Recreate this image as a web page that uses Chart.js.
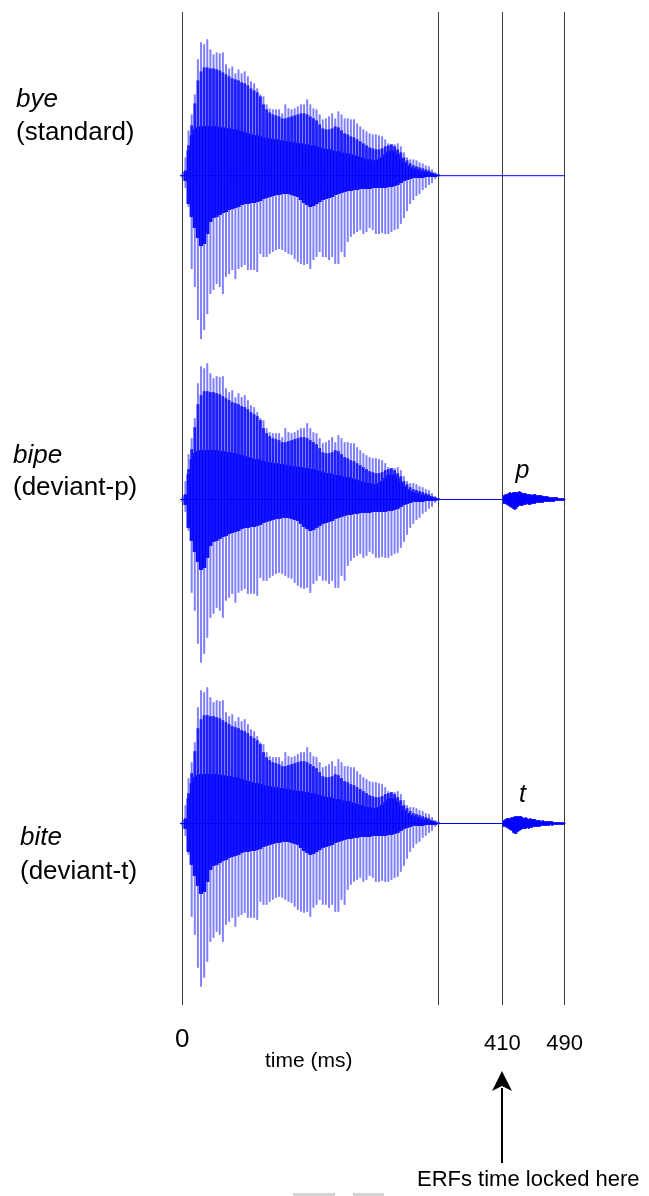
<!DOCTYPE html>
<html>
<head>
<meta charset="utf-8">
<script src="https://cdn.jsdelivr.net/npm/chart.js@4"></script>
<style>
  body { margin: 0; background: #fff; }
  #wrap { position: relative; width: 649px; height: 1196px; }
  .scrap { position: absolute; top: 1193px; height: 3px; background: #d4d4d4; }
</style>
</head>
<body>
<div id="wrap">
  <canvas id="wave" width="649" height="1196"></canvas>
  <div class="scrap" style="left:293px;width:42px"></div>
  <div class="scrap" style="left:353px;width:31px"></div>
</div>
<script>
// vowel (same "bye" recording in all three rows), one sample per ~glottal pulse, ms
const vowelTimes = [
    0, 4, 8, 12, 16, 20, 24, 28, 32, 36,
    40, 44, 48, 52, 56, 60, 64, 68, 72, 76,
    80, 84, 88, 92, 96, 100, 104, 108, 112, 116,
    120, 124, 128, 132, 136, 140, 144, 148, 152, 156,
    160, 164, 168, 172, 176, 180, 184, 188, 192, 196,
    200, 204, 208, 212, 216, 220, 224, 228, 232, 236,
    240, 244, 248, 252, 256, 260, 264, 268, 272, 276,
    280, 284, 288, 292, 296, 300, 304, 308, 312, 316,
    320, 324, 328
];

// peak amplitudes (thin outer spikes)
const vowelPeakUp = [
    0.02, 0.18, 0.45, 0.61, 0.81, 1.16, 1.33, 1.31, 1.36, 1.26,
    1.21, 1.23, 1.22, 1.23, 1.11, 1.07, 1.09, 1.02, 1.06, 1.02,
    1.04, 0.99, 0.94, 0.92, 0.87, 0.81, 0.79, 0.71, 0.67, 0.66,
    0.66, 0.66, 0.62, 0.71, 0.67, 0.66, 0.67, 0.69, 0.71, 0.71,
    0.76, 0.71, 0.67, 0.66, 0.61, 0.56, 0.57, 0.59, 0.62, 0.57,
    0.64, 0.61, 0.57, 0.57, 0.56, 0.56, 0.52, 0.49, 0.46, 0.44,
    0.42, 0.41, 0.41, 0.40, 0.39, 0.36, 0.32, 0.31, 0.31, 0.32,
    0.29, 0.23, 0.18, 0.16, 0.16, 0.15, 0.13, 0.12, 0.10, 0.09,
    0.06, 0.03, 0.01
];
const vowelPeakDown = [
    -0.02, -0.12, -0.31, -0.93, -1.11, -1.44, -1.63, -1.54, -1.38, -1.18,
    -1.14, -1.08, -1.11, -1.18, -1.01, -0.98, -0.94, -1.03, -0.93, -0.91,
    -0.89, -0.94, -0.94, -0.94, -0.96, -0.78, -0.81, -0.81, -0.78, -0.76,
    -0.74, -0.73, -0.74, -0.76, -0.78, -0.79, -0.83, -0.86, -0.88, -0.89,
    -0.88, -0.93, -0.84, -0.81, -0.76, -0.81, -0.81, -0.84, -0.81, -0.88,
    -0.88, -0.76, -0.81, -0.66, -0.61, -0.58, -0.56, -0.54, -0.58, -0.56,
    -0.52, -0.54, -0.58, -0.58, -0.57, -0.58, -0.58, -0.56, -0.54, -0.53,
    -0.48, -0.42, -0.35, -0.28, -0.24, -0.20, -0.18, -0.14, -0.12, -0.09,
    -0.07, -0.03, -0.01
];

// dense (but not solid) part above the baseline
const vowelBodyUp = [
    0.00, 0.05, 0.30, 0.50, 0.72, 0.95, 1.04, 1.08, 1.08, 1.07,
    1.07, 1.06, 1.05, 1.03, 1.01, 0.99, 0.97, 0.96, 0.95, 0.93,
    0.92, 0.90, 0.87, 0.85, 0.83, 0.79, 0.71, 0.66, 0.63, 0.61,
    0.60, 0.59, 0.57, 0.57, 0.58, 0.59, 0.60, 0.61, 0.62, 0.62,
    0.61, 0.59, 0.57, 0.55, 0.51, 0.47, 0.46, 0.46, 0.47, 0.49,
    0.48, 0.45, 0.42, 0.41, 0.39, 0.38, 0.36, 0.34, 0.32, 0.30,
    0.28, 0.27, 0.26, 0.26, 0.27, 0.29, 0.30, 0.31, 0.29, 0.26,
    0.23, 0.18, 0.15, 0.12, 0.10, 0.09, 0.08, 0.07, 0.06, 0.05,
    0.03, 0.02, 0.01
];
// solid core
const vowelCoreUp = [
    0.00, 0.04, 0.25, 0.40, 0.46, 0.48, 0.49, 0.49, 0.49, 0.49,
    0.49, 0.49, 0.48, 0.48, 0.47, 0.47, 0.46, 0.46, 0.45, 0.44,
    0.43, 0.42, 0.41, 0.40, 0.40, 0.39, 0.38, 0.37, 0.37, 0.36,
    0.36, 0.35, 0.35, 0.34, 0.34, 0.33, 0.33, 0.32, 0.32, 0.31,
    0.31, 0.30, 0.30, 0.29, 0.28, 0.27, 0.26, 0.26, 0.25, 0.24,
    0.24, 0.23, 0.22, 0.22, 0.21, 0.20, 0.19, 0.18, 0.17, 0.16,
    0.16, 0.15, 0.15, 0.16, 0.18, 0.21, 0.24, 0.25, 0.24, 0.21,
    0.17, 0.13, 0.10, 0.08, 0.07, 0.06, 0.05, 0.04, 0.04, 0.03,
    0.02, 0.01, 0.00
];
const vowelCoreDown = [
    0.00, -0.05, -0.28, -0.41, -0.52, -0.62, -0.70, -0.68, -0.58, -0.46,
    -0.42, -0.41, -0.39, -0.37, -0.36, -0.34, -0.33, -0.32, -0.31, -0.29,
    -0.28, -0.28, -0.27, -0.27, -0.26, -0.25, -0.23, -0.22, -0.21, -0.20,
    -0.19, -0.19, -0.18, -0.18, -0.18, -0.19, -0.20, -0.21, -0.24, -0.27,
    -0.29, -0.31, -0.30, -0.28, -0.26, -0.24, -0.23, -0.22, -0.21, -0.19,
    -0.18, -0.17, -0.16, -0.15, -0.15, -0.14, -0.14, -0.13, -0.13, -0.13,
    -0.13, -0.12, -0.12, -0.12, -0.12, -0.12, -0.11, -0.11, -0.10, -0.09,
    -0.07, -0.05, -0.04, -0.03, -0.02, -0.02, -0.02, -0.02, -0.01, -0.01,
    -0.01, -0.01, 0.00
];

// release bursts after the closure, ms
const burstTimes = [
    410, 412, 414, 416, 418, 420, 422, 424, 426, 428,
    430, 432, 434, 436, 438, 440, 442, 444, 446, 448,
    450, 452, 454, 456, 458, 460, 462, 464, 466, 468,
    470, 472, 474, 476, 478, 480, 482, 484, 486, 488, 490
];
const pBurstUp = [
    0.00, 0.04, 0.05, 0.05, 0.06, 0.07, 0.06, 0.07, 0.07, 0.07,
    0.07, 0.08, 0.07, 0.06, 0.06, 0.06, 0.05, 0.05, 0.05, 0.04,
    0.05, 0.05, 0.04, 0.04, 0.04, 0.04, 0.03, 0.03, 0.03, 0.03,
    0.02, 0.02, 0.02, 0.02, 0.02, 0.02, 0.01, 0.01, 0.01, 0.01, 0.00
];
const pBurstDown = [
    0.00, -0.04, -0.04, -0.05, -0.06, -0.07, -0.08, -0.09, -0.10, -0.09,
    -0.07, -0.06, -0.06, -0.06, -0.05, -0.05, -0.04, -0.05, -0.05, -0.04,
    -0.04, -0.04, -0.03, -0.03, -0.03, -0.03, -0.03, -0.02, -0.02, -0.02,
    -0.02, -0.02, -0.02, -0.02, -0.01, -0.01, -0.01, -0.01, -0.01, -0.01, 0.00
];
const tBurstUp = [
    0.00, 0.03, 0.04, 0.05, 0.05, 0.05, 0.06, 0.06, 0.07, 0.07,
    0.07, 0.07, 0.07, 0.06, 0.05, 0.06, 0.05, 0.04, 0.05, 0.04,
    0.04, 0.04, 0.03, 0.03, 0.03, 0.02, 0.03, 0.02, 0.02, 0.02,
    0.02, 0.02, 0.02, 0.01, 0.01, 0.01, 0.01, 0.01, 0.01, 0.01, 0.00
];
const tBurstDown = [
    0.00, -0.03, -0.03, -0.04, -0.05, -0.06, -0.07, -0.09, -0.10, -0.10,
    -0.08, -0.07, -0.06, -0.05, -0.05, -0.05, -0.04, -0.05, -0.04, -0.04,
    -0.03, -0.03, -0.03, -0.03, -0.03, -0.02, -0.02, -0.02, -0.02, -0.02,
    -0.02, -0.01, -0.02, -0.01, -0.01, -0.01, -0.01, -0.01, -0.01, -0.01, 0.00
];

const recording = [-3, 490];              // start / end of each trace, ms
const markerTimes = [0, 328, 410, 490];   // vertical lines
const tickValues = [0, 410, 490];
const tickLabels = ['0', '410', '490'];
const rowWords = ['bye', 'bipe', 'bite'];
const rowConditions = ['(standard)', '(deviant-p)', '(deviant-t)'];
const burstLetters = [null, 'p', 't'];

// layout of the three traces (y scale units, 1 unit = 100px)
const rowOffsets = [-1.637, -4.875, -8.115];
const rowLabelPos = [
    { x: 16, y1: 107, y2: 140 },
    { x: 13, y1: 463, y2: 495 },
    { x: 20, y1: 845, y2: 879 }
];
const bursts = [null, [pBurstDown, pBurstUp], [tBurstDown, tBurstUp]];

const BLUE = '#0000ff';
const FONT = "'Liberation Sans', Arial, sans-serif";

function floating(times, low, high, off) {
    return times.map((t, i) => ({ x: t, y: [off + low[i], off + high[i]] }));
}

const datasets = [];
rowOffsets.forEach((off, r) => {
    datasets.push({
        type: 'line',
        data: recording.map(t => ({ x: t, y: off })),
        borderColor: BLUE, borderWidth: 1, pointRadius: 0
    });
    datasets.push({
        data: floating(vowelTimes, vowelPeakDown, vowelPeakUp, off),
        backgroundColor: 'rgba(40,40,255,0.6)', barThickness: 1.3, grouped: false
    });
    datasets.push({
        data: floating(vowelTimes, vowelCoreDown, vowelBodyUp, off),
        backgroundColor: 'rgba(0,0,255,0.92)', barThickness: 2.1, grouped: false
    });
    datasets.push({
        data: floating(vowelTimes, vowelCoreDown, vowelCoreUp, off),
        backgroundColor: BLUE, barThickness: 3.4, grouped: false
    });
    if (bursts[r]) {
        datasets.push({
            data: floating(burstTimes, bursts[r][0], bursts[r][1], off),
            backgroundColor: BLUE, barThickness: 1.5, grouped: false
        });
    }
});

const textPlugin = {
    id: 'texts',
    afterDraw(chart) {
        const ctx = chart.ctx;
        const xs = chart.scales.x;
        const ys = chart.scales.y;
        ctx.save();
        ctx.fillStyle = '#000';
        ctx.textBaseline = 'alphabetic';

        ctx.textAlign = 'left';
        rowLabelPos.forEach((p, r) => {
            ctx.font = 'italic 26px ' + FONT;
            ctx.fillText(rowWords[r], p.x, p.y1);
            ctx.font = '26px ' + FONT;
            ctx.fillText(rowConditions[r], p.x, p.y2);
        });

        // burst letters above the release
        ctx.textAlign = 'center';
        ctx.font = 'italic 25px ' + FONT;
        burstLetters.forEach((s, r) => {
            if (!s) return;
            ctx.fillText(s, xs.getPixelForValue(436), ys.getPixelForValue(rowOffsets[r]) - 22);
        });

        // tick labels
        tickValues.forEach((v, i) => {
            ctx.font = (v === 0 ? '26px ' : '22px ') + FONT;
            ctx.fillText(tickLabels[i], xs.getPixelForValue(v), v === 0 ? 1047 : 1050);
        });
        ctx.textAlign = 'left';
        ctx.font = '21px ' + FONT;
        ctx.fillText('time (ms)', 265, 1067);

        // arrow at 410 ms
        const ax = Math.round(xs.getPixelForValue(410));
        ctx.strokeStyle = '#000';
        ctx.lineWidth = 2;
        ctx.beginPath();
        ctx.moveTo(ax, 1088);
        ctx.lineTo(ax, 1163);
        ctx.stroke();
        ctx.beginPath();
        ctx.moveTo(ax, 1071);
        ctx.lineTo(ax - 10, 1091);
        ctx.lineTo(ax, 1086);
        ctx.lineTo(ax + 10, 1091);
        ctx.closePath();
        ctx.fill();

        ctx.font = '22px ' + FONT;
        ctx.fillText('ERFs time locked here', 417, 1186);
        ctx.restore();
    }
};

new Chart(document.getElementById('wave'), {
    type: 'bar',
    data: { datasets: datasets },
    options: {
        responsive: false,
        animation: false,
        layout: { padding: { top: 12, left: 0, right: 0, bottom: 0 } },
        plugins: { legend: { display: false }, tooltip: { enabled: false } },
        scales: {
            x: {
                type: 'linear',
                min: -233.6, max: 598.0,
                offset: false,
                border: { display: false },
                grid: { color: '#3c3c3c', lineWidth: 1, drawTicks: false, offset: false },
                ticks: { display: false },
                afterBuildTicks: s => { s.ticks = markerTimes.map(v => ({ value: v })); },
                afterFit: s => { s.height = 191; }
            },
            y: { display: false, min: -9.93, max: 0 }
        }
    },
    plugins: [textPlugin]
});
</script>
</body>
</html>
